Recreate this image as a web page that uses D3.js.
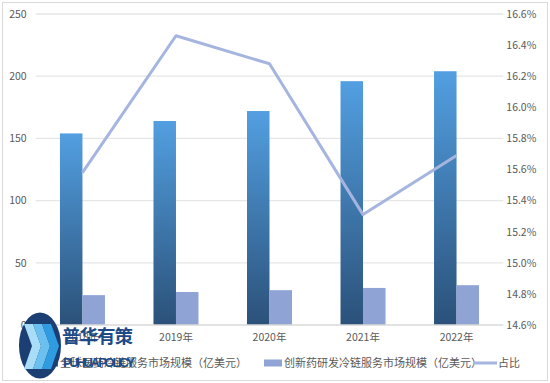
<!DOCTYPE html>
<html>
<head>
<meta charset="utf-8">
<script src="https://cdnjs.cloudflare.com/ajax/libs/d3/7.8.5/d3.min.js"></script>
<style>
  body { margin: 0; background: #fff; }
  svg text { font-family: "Microsoft YaHei", "Noto Sans CJK SC", sans-serif; }
</style>
</head>
<body>
<script>
// data
var years = ["2018年", "2019年", "2020年", "2021年", "2022年"];
var globalSize = [154, 164, 172, 196, 204];
var innovSize = [24, 26.5, 28, 29.8, 32];
var ratio = [15.58, 16.46, 16.28, 15.31, 15.69];
var leftTicks = [0, 50, 100, 150, 200, 250];
var rightTicks = [14.6, 14.8, 15.0, 15.2, 15.4, 15.6, 15.8, 16.0, 16.2, 16.4, 16.6];
var seriesNames = ["全球医药冷链服务市场规模（亿美元）", "创新药研发冷链服务市场规模（亿美元）", "占比"];

var W = 550, H = 383;
var m = {left: 35.7, right: 46.7, top: 14, bottom: 58};

var svg = d3.select("body").append("svg").attr("width", W).attr("height", H);

svg.append("rect").attr("x", 2.5).attr("y", 2.5).attr("width", W - 5).attr("height", H - 5)
   .attr("fill", "#fff").attr("stroke", "#d9d9d9");

var defs = svg.append("defs");
var grad = defs.append("linearGradient").attr("id", "blueGrad")
   .attr("x1", 0).attr("y1", 0).attr("x2", 0).attr("y2", 1);
grad.append("stop").attr("offset", "0%").attr("stop-color", "#529fe1");
grad.append("stop").attr("offset", "100%").attr("stop-color", "#2b5179");

var x = d3.scaleBand().domain(years).range([m.left, W - m.right]);
var y = d3.scaleLinear().domain([0, 250]).range([H - m.bottom, m.top]);
var y2 = d3.scaleLinear().domain([14.6, 16.6]).range([H - m.bottom, m.top]);

// grid
svg.append("g").selectAll("line").data(leftTicks.slice(1)).enter().append("line")
   .attr("x1", m.left).attr("x2", W - m.right)
   .attr("y1", d => y(d)).attr("y2", d => y(d))
   .attr("stroke", "#e6e6e6").attr("stroke-width", 1.3);

var bw = 22.5;
svg.append("g").selectAll("rect").data(globalSize).enter().append("rect")
   .attr("x", (d, i) => x(years[i]) + x.bandwidth() / 2 - bw)
   .attr("y", d => y(d))
   .attr("width", bw)
   .attr("height", d => y(0) - y(d))
   .attr("fill", "url(#blueGrad)");

svg.append("g").selectAll("rect").data(innovSize).enter().append("rect")
   .attr("x", (d, i) => x(years[i]) + x.bandwidth() / 2)
   .attr("y", d => y(d))
   .attr("width", bw)
   .attr("height", d => y(0) - y(d))
   .attr("fill", "#8fa3d5");

// x axis line
svg.append("line").attr("x1", m.left).attr("x2", W - m.right)
   .attr("y1", y(0)).attr("y2", y(0)).attr("stroke", "#d9d9d9").attr("stroke-width", 1.3);

var line = d3.line()
   .x((d, i) => x(years[i]) + x.bandwidth() / 2)
   .y(d => y2(d));
svg.append("path").datum(ratio).attr("d", line)
   .attr("fill", "none").attr("stroke", "#a5b5df").attr("stroke-width", 3)
   .attr("stroke-linejoin", "round");

// axes
var yAxis = d3.axisLeft(y).tickValues(leftTicks).tickSize(0).tickPadding(9);
var gy = svg.append("g").attr("transform", "translate(" + (m.left - 0) + ",0)").call(yAxis);
gy.select(".domain").remove();
gy.selectAll("text").attr("fill", "#595959").style("font-size", "10.5px");

var y2Axis = d3.axisRight(y2).tickValues(rightTicks).tickSize(0).tickPadding(3)
   .tickFormat(d => d.toFixed(1) + "%");
var gy2 = svg.append("g").attr("transform", "translate(" + (W - m.right) + ",0)").call(y2Axis);
gy2.select(".domain").remove();
gy2.selectAll("text").attr("fill", "#595959").style("font-size", "10.5px");

var xAxis = d3.axisBottom(x).tickSize(0).tickPadding(9);
var gx = svg.append("g").attr("transform", "translate(0," + y(0) + ")").call(xAxis);
gx.select(".domain").remove();
gx.selectAll("text").attr("fill", "#595959").style("font-size", "10.5px");

// legend
var lg = svg.append("g").attr("transform", "translate(0,363)");
lg.append("rect").attr("x", 42).attr("y", -3.5).attr("width", 16).attr("height", 7).attr("fill", "url(#blueGrad)");
lg.append("text").attr("x", 60).attr("y", 4).text(seriesNames[0]);
lg.append("rect").attr("x", 264).attr("y", -3.5).attr("width", 18).attr("height", 7).attr("fill", "#8fa3d5");
lg.append("text").attr("x", 284).attr("y", 4).text(seriesNames[1]);
lg.append("line").attr("x1", 473).attr("x2", 497).attr("y1", 0).attr("y2", 0)
  .attr("stroke", "#a5b5df").attr("stroke-width", 3);
lg.append("text").attr("x", 498).attr("y", 4).text(seriesNames[2]);
lg.selectAll("text").attr("fill", "#595959").style("font-size", "11px");

// watermark logo
var wm = svg.append("g");
wm.append("ellipse").attr("cx", 40).attr("cy", 345.5).attr("rx", 21).attr("ry", 33).attr("fill", "#1b3f73");
[[24, "#a9dcf7"], [33, "#6cc0ef"], [42, "#2f9be0"]].forEach(function (c) {
  wm.append("path")
    .attr("d", "M" + c[0] + ",324 L" + (c[0] + 9) + ",324 L" + (c[0] + 17) + ",346 L" + (c[0] + 9) + ",369 L" + c[0] + ",369 L" + (c[0] + 8) + ",346 Z")
    .attr("fill", c[1]);
});
wm.append("text").attr("x", 62).attr("y", 343).text("普华有策")
  .attr("fill", "#1d4a86").style("font-size", "18.5px").style("font-weight", "bold")
  .attr("textLength", 71);
wm.append("text").attr("x", 63).attr("y", 367).text("PUHUA POLICY")
  .attr("fill", "#1d4a86").style("font-size", "13px").style("font-weight", "bold")
  .style("font-family", "Liberation Sans Narrow, Arial Narrow, sans-serif").attr("textLength", 72);
</script>
</body>
</html>
